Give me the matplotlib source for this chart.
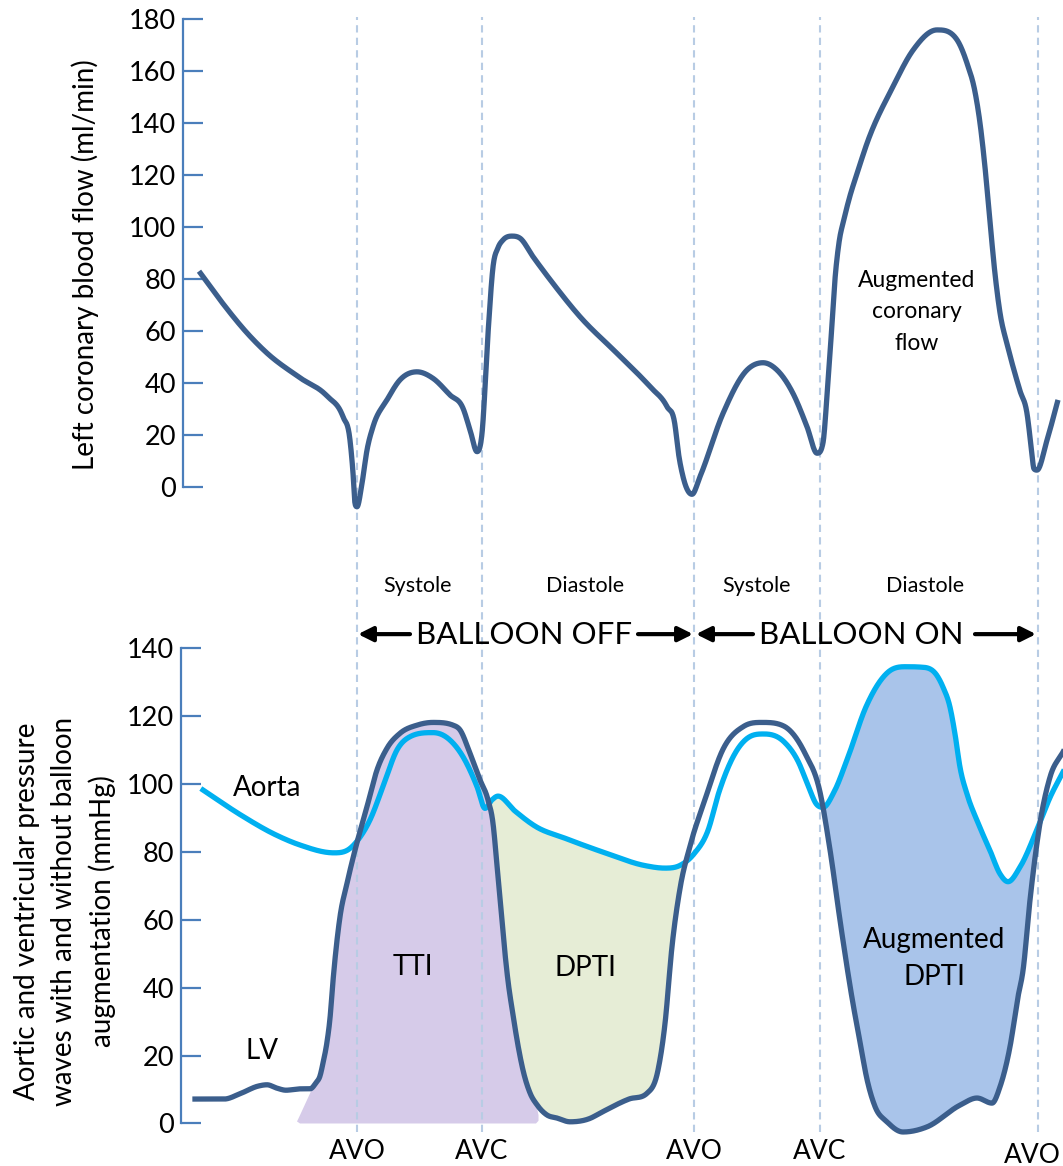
import numpy as np
import matplotlib.pyplot as plt

plt.rcParams['font.family'] = ['Lato', 'DejaVu Sans']

# left coronary blood flow (ml/min) against time
flow_t = [199, 220, 250, 267, 300, 327, 343, 350, 353, 355, 357, 362, 367, 373, 387,
          400, 417, 433, 450, 463, 470, 477, 482, 488, 493, 498, 503, 512, 520, 533, 553,
          580, 617, 650, 667, 675, 678, 683, 692, 700, 723, 747, 763, 777, 793, 807,
          817, 823, 827, 831, 835, 839, 844, 850, 857, 867, 893, 913, 937, 957, 967,
          975, 980, 985, 990, 995, 1000, 1007, 1013, 1020, 1027, 1031, 1034, 1037, 1047, 1058]
flow_v = [83, 72, 58, 51.5, 42, 35, 27, 18, 5.4, -6.3, -7.6, 1.4, 14.2, 23.2, 33.5,
          41.2, 44.3, 41.8, 35.4, 30.3, 22, 13.6, 20.6, 59, 84.6, 92, 95, 96.5, 95.7, 88.6, 78.3,
          65.5, 51.4, 38.6, 30.9, 23.8, 14.2, 4, -2.8, 4, 28.3, 45, 47.8, 45, 36, 23.2,
          13, 17, 35, 57, 80, 94, 103, 112, 120.5, 132.2, 154, 168, 175.8, 172, 163,
          152, 140, 123, 102, 82, 67, 55, 46.3, 37, 28.3, 16, 7, 6.5, 18, 33.5]

# aortic pressure (mmHg)
aorta_t = [203, 241, 275, 300, 334, 350, 358, 370, 383, 397, 410, 433, 450, 463, 477,
           485, 492, 498, 515, 536, 565, 608, 644, 665, 680, 694, 708, 719, 733, 751, 764,
           784, 798, 809, 816, 823, 834, 848, 866, 888, 905, 920, 937, 943, 950, 955,
           960, 967, 977, 990, 1000, 1008, 1020, 1038, 1050, 1063]
aorta_p = [98.2, 90.8, 85.1, 82, 79.7, 81, 83.5, 89.4, 99.2, 110, 113.9, 115.1, 112.9, 108, 99.2,
           92.8, 95.3, 96.4, 92, 87.4, 84, 79.4, 76, 75.2, 76, 79.4, 86.3, 97.6, 107.9, 114.1, 114.7,
           112.4, 106.7, 98.8, 94.2, 93.1, 97.6, 107.9, 122.7, 132.9, 134.5, 134.4, 131.9, 128.5, 122.6, 114.7,
           104.9, 97, 89.2, 80.4, 73.5, 71.2, 75.5, 87.3, 96, 103.5]

# left ventricular pressure (mmHg)
lv_t = [195, 224, 241, 258, 267, 277, 286, 300, 310, 316, 320, 323, 327, 330, 333,
        340, 347, 355, 367, 377, 387, 400, 417, 433, 453, 460, 470, 480, 488, 493,
        497, 500, 504, 508, 513, 518, 523, 530, 537, 547, 557, 570, 590, 601, 629,
        647, 658, 665, 672, 680, 690, 705, 723, 744, 762, 784, 805, 820, 830, 841,
        852, 860, 867, 875, 887, 903, 927, 960, 977, 992, 1000, 1010, 1018, 1023, 1030,
        1040, 1050, 1063]
lv_p = [7.2, 7.2, 8.9, 11, 11.4, 10.4, 9.8, 10.2, 10.2, 12, 14, 17.8, 24, 31, 42,
        60.9, 70.7, 80.5, 93.3, 104.1, 110.5, 114.9, 117.3, 118.1, 117.3, 115.9, 109, 101.2, 95.3, 88.4,
        76, 66, 53, 42, 32, 23, 15.7, 9, 5.5, 2.5, 1.6, 0.5, 1.5, 3.2, 7.2,
        8.9, 15.7, 29.4, 52.1, 69.2, 81.7, 95.4, 110.2, 117, 118.1, 117, 109, 97.6, 80.6, 57.8,
        37, 24, 13, 5, 0.5, -2.5, -1, 5.4, 7.5, 6, 10.8, 22.6, 37.3, 45, 65.8,
        88.5, 102, 109.4]

valve_t = [357, 482, 694, 820, 1038]
valve_names = ["AVO", "AVC", "AVO", "AVC", "AVO"]
phase_t = [418, 585, 757, 925]
phase_names = ["Systole", "Diastole", "Systole", "Diastole"]

flow_ticks = [0, 20, 40, 60, 80, 100, 120, 140, 160, 180]
pressure_ticks = [0, 20, 40, 60, 80, 100, 120, 140]

DARK = '#3B5E8C'
CYAN = '#00B0F0'
AXIS = '#4A7EBB'
DASH = '#B8CCE4'


def smooth(t, v, grid):
    # cubic Hermite through the samples, three-point slopes limited
    # so that peaks and troughs stay where they were sampled
    t = np.asarray(t, float)
    v = np.asarray(v, float)
    h = np.diff(t)
    d = np.diff(v) / h
    m = np.zeros_like(v)
    for k in range(1, len(v) - 1):
        if d[k - 1] * d[k] > 0:
            s = (h[k] * d[k - 1] + h[k - 1] * d[k]) / (h[k - 1] + h[k])
            lim = 3 * min(abs(d[k - 1]), abs(d[k]))
            m[k] = np.sign(s) * min(abs(s), lim)
    m[0] = d[0]
    m[-1] = d[-1]
    i = np.clip(np.searchsorted(t, grid) - 1, 0, len(t) - 2)
    s = (grid - t[i]) / h[i]
    return ((2 * s**3 - 3 * s**2 + 1) * v[i] + (s**3 - 2 * s**2 + s) * h[i] * m[i]
            + (-2 * s**3 + 3 * s**2) * v[i + 1] + (s**3 - s**2) * h[i] * m[i + 1])


W, H = 1063, 1166
fig = plt.figure(figsize=(W / 100, H / 100), dpi=100)

ax1 = fig.add_axes([183 / W, 1 - 520 / H, 880 / W, 510 / H])
ax2 = fig.add_axes([181 / W, 1 - 1140 / H, 882 / W, 580 / H])
ax1.set_xlim(183, 1063)
ax1.set_ylim(-12.69, 183.46)
ax2.set_xlim(181, 1063)
ax2.set_ylim(-4.86, 165.93)

for ax, ticks in ((ax1, flow_ticks), (ax2, pressure_ticks)):
    ax.patch.set_alpha(0)
    for side in ('top', 'right', 'bottom'):
        ax.spines[side].set_visible(False)
    ax.spines['left'].set_color(AXIS)
    ax.spines['left'].set_linewidth(1.6)
    ax.spines['left'].set_bounds(ticks[0], ticks[-1])
    ax.set_xticks([])
    ax.set_yticks(ticks)
    ax.tick_params(axis='y', direction='in', length=14.5, width=1.6, color=AXIS,
                   labelsize=19.5, pad=5)

# top panel: coronary flow
g1 = np.linspace(flow_t[0], flow_t[-1], 3000)
ax1.plot(g1, smooth(flow_t, flow_v, g1), color=DARK, lw=3.8, zorder=3,
         solid_capstyle='butt')
for t in valve_t:
    ax1.axvline(t, ymin=0, ymax=(520 - 17) / 510, color=DASH, lw=1.5,
                dashes=(3.5, 2.5), clip_on=False, zorder=1.5)
ax1.text(917, 77, "Augmented", ha='center', va='baseline', fontsize=16.5)
ax1.text(917, 65, "coronary", ha='center', va='baseline', fontsize=16.5)
ax1.text(917, 52.7, "flow", ha='center', va='baseline', fontsize=16.5)

fig.text(85 / W, 1 - 265 / H, "Left coronary blood flow (ml/min)", rotation=90,
         ha='center', va='center', fontsize=20)

# bottom panel: aortic and LV pressure
g2 = np.linspace(203, 1063, 4000)
ao = smooth(aorta_t, aorta_p, g2)
lv = smooth(lv_t, lv_p, g2)
gl = np.linspace(lv_t[0], lv_t[-1], 4000)
lv_full = smooth(lv_t, lv_p, gl)

# tension time index under the LV curve
sel = (gl >= 313) & (gl <= 536)
tti_x = np.concatenate([[297, 299], gl[sel], [538.5, 538.5, 536, 300]])
tti_y = np.concatenate([[0.6, 1.8], lv_full[sel], [2.5, 0.8, 0, 0]])
ax2.fill(tti_x, tti_y, color='#D6CBE9', lw=0, zorder=1)

ax2.fill_between(g2, lv, ao, where=(g2 >= 480) & (g2 <= 700) & (ao >= lv),
                 interpolate=True, color='#E6EDD6', lw=0, zorder=1)
ax2.fill_between(g2, lv, ao, where=(g2 >= 810) & (g2 <= 1050) & (ao >= lv),
                 interpolate=True, color='#A9C4EA', lw=0, zorder=1)

for t in valve_t:
    ax2.axvline(t, ymin=(1140 - 1132) / 580, ymax=(1140 - 520) / 580, color=DASH,
                lw=1.5, dashes=(3.5, 2.5), clip_on=False, zorder=1.5)

ax2.plot(g2, ao, color=CYAN, lw=3.8, zorder=3)
ax2.plot(gl, lv_full, color=DARK, lw=3.8, zorder=4)

for i, (t, name) in enumerate(zip(valve_t, valve_names)):
    if i == len(valve_t) - 1:
        ax2.text(t - 6, -11.5, name, ha='center', va='baseline', fontsize=19)
    else:
        ax2.text(t, -10.5, name, ha='center', va='baseline', fontsize=19)

for t, name in zip(phase_t, phase_names):
    ax2.text(t, 156.6, name, ha='center', va='baseline', fontsize=15.5)

ax2.text(524, 141.2, "BALLOON OFF", ha='center', va='baseline', fontsize=22.5)
ax2.text(861, 141.2, "BALLOON ON", ha='center', va='baseline', fontsize=22.5)

arrow = dict(arrowstyle='-|>', color='black', lw=3, mutation_scale=22,
             shrinkA=0, shrinkB=0)
for tail, head in ((410, 358), (638, 693), (753, 696), (975, 1036)):
    ax2.annotate('', xy=(head, 144.1), xytext=(tail, 144.1), arrowprops=arrow,
                 annotation_clip=False)

ax2.text(267, 96.5, "Aorta", ha='center', va='baseline', fontsize=20)
ax2.text(262, 19.1, "LV", ha='center', va='baseline', fontsize=20)
ax2.text(413, 43.8, "TTI", ha='center', va='baseline', fontsize=20)
ax2.text(585, 43.3, "DPTI", ha='center', va='baseline', fontsize=20)
ax2.text(934.5, 51.6, "Augmented", ha='center', va='baseline', fontsize=20)
ax2.text(934.5, 40.8, "DPTI", ha='center', va='baseline', fontsize=20)

fig.text(65 / W, 1 - 911 / H,
         "Aortic and ventricular pressure\nwaves with and without balloon\naugmentation (mmHg)",
         rotation=90, ha='center', va='center', multialignment='center',
         fontsize=20, linespacing=1.5)

fig.savefig('out.png', dpi=100)
